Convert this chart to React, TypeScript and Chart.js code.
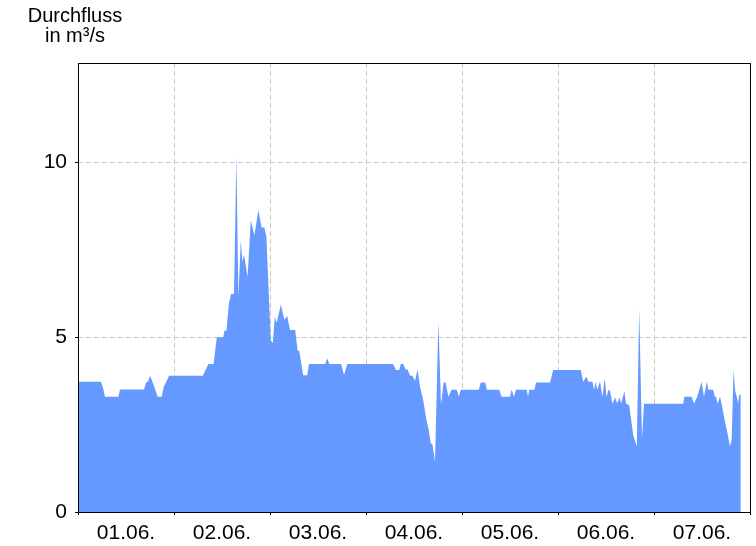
import React, { useEffect, useRef } from "react";
import { Chart, registerables } from "chart.js";

Chart.register(...registerables);

// Hours since 01.06. 00:00
const hours = [
  0, 5.75, 6.25, 6.75, 10.1, 10.5, 16.5, 17, 17.5, 18, 18.5, 19, 19.9, 20.9, 21.5, 22.2, 22.75,
  31.2, 31.9, 32.6, 33.9, 34.7, 36.3, 36.6, 37.1, 37.75, 38.3, 39.0, 39.6, 40.1, 40.7, 41.1, 41.5,
  42.4, 43.2, 44.1, 45.1, 45.9, 46.6, 47.1, 47.6, 48.2, 48.7, 49.2, 49.7, 50.7, 51.6, 52.3, 53.0,
  54.3, 54.9, 55.3, 56.3, 57.3, 57.75, 61.8, 62.3, 62.8, 65.8, 66.5, 67.3, 78.8, 79.5, 80.3, 80.7,
  81.3, 81.9, 82.4, 83.0, 83.6, 84.25, 84.9, 85.5, 86.3, 87.1, 87.7, 88.2, 88.6, 89.25, 90.1, 90.75,
  91.4, 91.9, 92.6, 93.4, 94.7, 95.2, 95.7, 100.2, 100.7, 101.8, 102.2, 105.3, 105.9, 108.0, 108.4,
  109.0, 109.5, 112.2, 112.5, 112.8, 114.1, 114.5, 118.0, 118.8, 125.7, 126.3, 127.1, 127.6, 128.6,
  129.0, 129.4, 129.8, 130.5, 131.1, 131.7, 132.1, 132.7, 133.0, 133.6, 134.3, 134.8, 135.4, 135.8,
  136.6, 137.0, 137.8, 138.8, 139.7, 140.3, 141.0, 141.5, 151.3, 151.6, 153.4, 154.0, 154.8, 155.9,
  156.5, 157.2, 157.6, 158.8, 159.2, 159.5, 159.9, 160.5, 160.9, 161.75, 162.3, 163.0, 163.4, 163.9,
  164.3, 164.7, 165.0, 165.3, 165.7,
];

// Durchfluss in m³/s
const flow = [
  3.72, 3.72, 3.55, 3.29, 3.29, 3.5, 3.5, 3.7, 3.72, 3.89, 3.75, 3.6, 3.29, 3.29, 3.6, 3.75, 3.89,
  3.89, 4.06, 4.23, 4.23, 4.99, 4.99, 5.18, 5.18, 5.98, 6.23, 6.23, 10.17, 6.15, 7.77, 7.15, 7.36,
  6.72, 8.34, 7.91, 8.63, 8.13, 8.13, 7.87, 6.5, 4.91, 4.82, 5.58, 5.41, 5.93, 5.49, 5.6, 5.2,
  5.2, 4.61, 4.61, 3.91, 3.91, 4.23, 4.23, 4.39, 4.23, 4.23, 3.91, 4.23, 4.23, 4.06, 4.06, 4.23,
  4.23, 4.07, 4.07, 3.89, 3.89, 3.75, 4.07, 3.58, 3.2, 2.63, 2.34, 1.96, 1.94, 1.44, 5.44, 3.06,
  3.7, 3.7, 3.29, 3.49, 3.49, 3.29, 3.49, 3.49, 3.7, 3.7, 3.49, 3.49, 3.29, 3.29, 3.49,
  3.29, 3.49, 3.49, 3.29, 3.49, 3.49, 3.7, 3.7, 4.06, 4.06, 3.72, 3.87, 3.72, 3.72,
  3.49, 3.72, 3.49, 3.72, 3.29, 3.83, 3.29, 3.49, 3.47, 3.1, 3.27, 3.1, 3.27, 3.1,
  3.45, 3.1, 3.05, 2.2, 1.87, 5.82, 2.1, 3.09, 3.09, 3.29, 3.29, 3.09, 3.29, 3.72,
  3.29, 3.72, 3.49, 3.49, 3.29, 3.29, 3.09, 3.29, 3.09, 2.58, 2.29, 1.87, 2.06, 4.06,
  3.45, 3.29, 3.09, 3.35, 3.35,
];

const dayLabels = ["01.06.", "02.06.", "03.06.", "04.06.", "05.06.", "06.06.", "07.06."];
const yTicks = [0, 5, 10];
const yMax = 12.83;
const titleLines = ["Durchfluss", "in m³/s"];

const FONT = '"Liberation Sans", Arial, sans-serif';

export default function App() {
  const ref = useRef<HTMLCanvasElement | null>(null);

  useEffect(() => {
    if (!ref.current) return;
    const framePlugin = {
      id: "frame",
      afterDraw(chart: any) {
        const { ctx, chartArea } = chart;
        ctx.save();
        ctx.strokeStyle = "#000";
        ctx.lineWidth = 1;
        ctx.strokeRect(
          Math.round(chartArea.left) + 0.5,
          Math.round(chartArea.top) + 0.5,
          Math.round(chartArea.right - chartArea.left),
          Math.round(chartArea.bottom - chartArea.top)
        );
        ctx.fillStyle = "#000";
        ctx.font = "20px " + FONT;
        ctx.textAlign = "center";
        ctx.textBaseline = "alphabetic";
        ctx.fillText(titleLines[0], 75, 22);
        ctx.fillText(titleLines[1], 75, 42);
        ctx.restore();
      },
    };

    const chart = new Chart(ref.current, {
      type: "line",
      data: {
        datasets: [
          {
            data: hours.map((h, i) => ({ x: h, y: flow[i] })),
            backgroundColor: "#6699ff",
            borderColor: "rgba(0,0,0,0)",
            borderWidth: 0,
            pointRadius: 0,
            fill: "origin",
            tension: 0,
          },
        ],
      },
      options: {
        responsive: false,
        animation: false,
        layout: { padding: { top: 63, right: 6, left: 0, bottom: 0 } },
        plugins: { legend: { display: false }, tooltip: { enabled: false } },
        scales: {
          x: {
            type: "linear",
            min: 0,
            max: 168,
            z: 1,
            border: { display: false, dash: [5, 3] },
            afterBuildTicks: (scale: any) => {
              const t = [];
              for (let v = 0; v <= 168; v += 12) t.push({ value: v });
              scale.ticks = t;
            },
            afterFit: (scale: any) => {
              scale.height = 34;
            },
            grid: {
              color: (c: any) =>
                c.tick && c.tick.value % 24 === 0 && c.tick.value > 0 && c.tick.value < 168
                  ? "#cbc6bd"
                  : "rgba(0,0,0,0)",
              tickColor: (c: any) =>
                c.tick && c.tick.value % 24 === 0 ? "#000" : "rgba(0,0,0,0)",
              tickBorderDash: [],
              tickLength: 3,
              lineWidth: 1,
            },
            ticks: {
              autoSkip: false,
              maxRotation: 0,
              minRotation: 0,
              padding: 6,
              color: "#000",
              font: { family: FONT, size: 21 },
              callback: (v: any) => {
                const n = Number(v);
                return n % 24 === 12 ? dayLabels[(n - 12) / 24] : "";
              },
            },
          },
          y: {
            type: "linear",
            min: 0,
            max: yMax,
            z: 1,
            border: { display: false, dash: [5, 3] },
            afterBuildTicks: (scale: any) => {
              scale.ticks = yTicks.map((v) => ({ value: v }));
            },
            afterFit: (scale: any) => {
              scale.width = 78;
            },
            grid: {
              color: (c: any) => (c.tick && c.tick.value > 0 ? "#c8c8c8" : "rgba(0,0,0,0)"),
              tickColor: "#000",
              tickBorderDash: [],
              tickLength: 3,
              lineWidth: 1,
            },
            ticks: {
              padding: 8,
              color: "#000",
              font: { family: FONT, size: 21 },
              callback: (v: any) => String(v),
            },
          },
        },
      },
      plugins: [framePlugin],
    });
    return () => chart.destroy();
  }, []);

  return (
    <div style={{ position: "absolute", left: 0, top: 0, width: 756, height: 546, background: "#fff" }}>
      <canvas ref={ref} width={756} height={546} style={{ display: "block" }} />
    </div>
  );
}
